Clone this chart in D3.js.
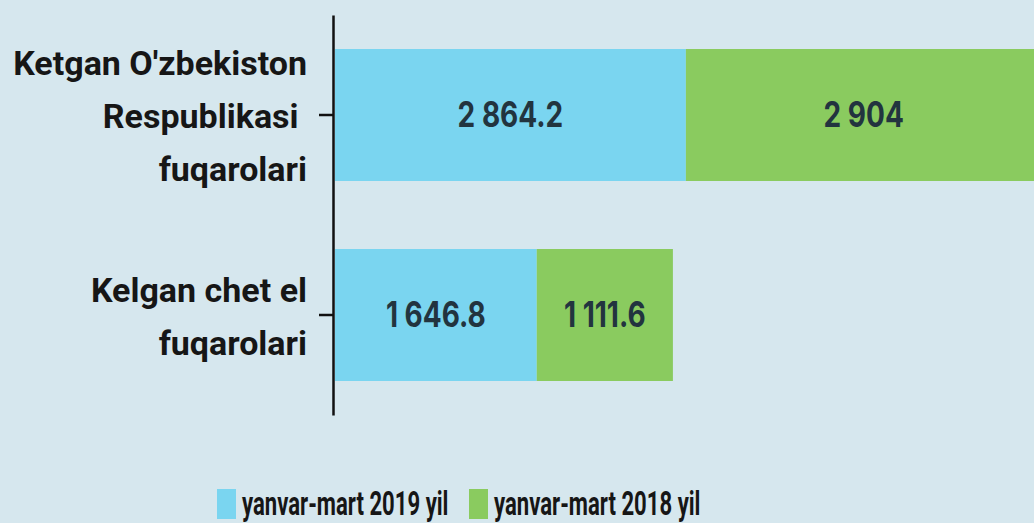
<!DOCTYPE html>
<html>
<head>
<meta charset="utf-8">
<script src="https://cdn.jsdelivr.net/npm/d3@7"></script>
<style>
  body { margin: 0; background: #d6e7ee; }
  svg { display: block; }
</style>
</head>
<body>
<svg id="chart" width="1034" height="523"></svg>
<script>
const width = 1034;
const height = 523;

// data
const categories = ["Ketgan O'zbekiston Respublikasi fuqarolari", "Kelgan chet el fuqarolari"];
const categoryLines = [["Ketgan O'zbekiston", "Respublikasi ", "fuqarolari"], ["Kelgan chet el", "fuqarolari"]];
const seriesNames = ["yanvar-mart 2019 yil", "yanvar-mart 2018 yil"];
const values2019 = [2864.2, 1646.8];
const values2018 = [2904, 1111.6];
const colors = ["#7ad5f0", "#8acb5f"];

const svg = d3.select("#chart");

const locale = d3.formatLocale({decimal: ".", thousands: " ", grouping: [3], currency: ["", ""]});
const fmt = locale.format(",.1~f");

const x = d3.scaleLinear().domain([0, 5768.2]).range([335, 1041.6]);
const y = d3.scaleBand().domain(categories).range([15, 415]).paddingInner(0.34).paddingOuter(0.17);

const stacked = categories.map(function (c, i) {
    return [
        {cat: c, x0: 0, x1: values2019[i], v: values2019[i], s: 0},
        {cat: c, x0: values2019[i], x1: values2019[i] + values2018[i], v: values2018[i], s: 1}
    ];
}).flat();

svg.selectAll("rect.bar").data(stacked).enter()
    .append("rect")
    .attr("class", "bar")
    .attr("x", d => x(d.x0))
    .attr("width", d => x(d.x1) - x(d.x0))
    .attr("y", d => y(d.cat))
    .attr("height", y.bandwidth())
    .attr("fill", d => colors[d.s]);

svg.selectAll("text.val").data(stacked).enter()
    .append("text")
    .attr("class", "val")
    .attr("transform", d => "translate(" + (x(d.x0) + x(d.x1)) / 2 + "," + (y(d.cat) + y.bandwidth() / 2 + 12) + ") scale(0.8,1)")
    .attr("text-anchor", "middle")
    .attr("font-family", "Inter")
    .attr("font-weight", 700)
    .attr("font-size", 35)
    .attr("fill", "#22343f")
    .text(d => fmt(d.v));

// axis
const axis = svg.append("g")
    .attr("transform", "translate(333,0)")
    .call(d3.axisLeft(y).tickSize(14).tickSizeOuter(0).tickFormat(""));
axis.selectAll("path, line").attr("stroke", "#111").attr("stroke-width", 2.5);

const labels = svg.selectAll("text.cat").data(categories).enter()
    .append("text")
    .attr("class", "cat")
    .attr("text-anchor", "end")
    .attr("font-family", "Roboto")
    .attr("font-weight", 700)
    .attr("font-size", 34)
    .attr("fill", "#161616");

labels.each(function (c, i) {
    const lines = categoryLines[i];
    const cy = y(c) + y.bandwidth() / 2;
    d3.select(this).selectAll("tspan").data(lines).enter()
        .append("tspan")
        .attr("x", 307)
        .attr("y", (d, j) => cy + 13 + (j - (lines.length - 1) / 2) * 53)
        .attr("xml:space", "preserve")
        .text(d => d);
});

// legend
const legendX = [217, 469];
const legend = svg.selectAll("g.leg").data(seriesNames).enter()
    .append("g")
    .attr("class", "leg")
    .attr("transform", (d, i) => "translate(" + legendX[i] + ",0)");

legend.append("rect")
    .attr("x", 0)
    .attr("y", 489)
    .attr("width", 19)
    .attr("height", 30)
    .attr("fill", (d, i) => colors[i]);

legend.append("text")
    .attr("transform", "translate(25,515) scale(0.67,1)")
    .attr("font-family", "Roboto")
    .attr("font-weight", 700)
    .attr("font-size", 33)
    .attr("fill", "#161616")
    .text(d => d);
</script>
</body>
</html>
